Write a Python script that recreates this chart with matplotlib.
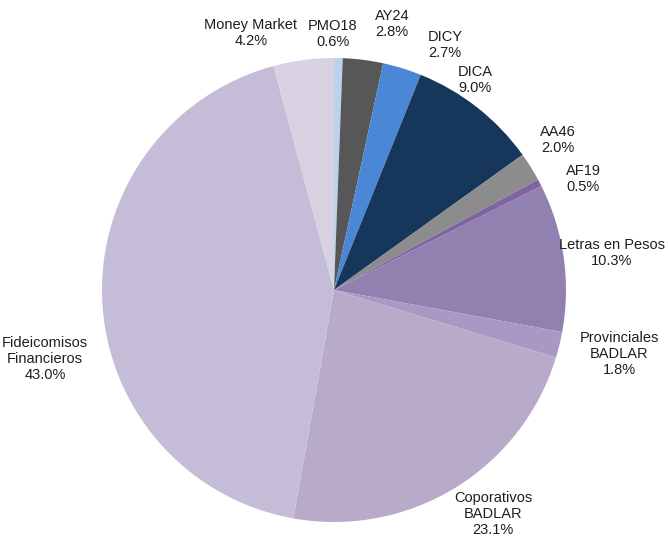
import matplotlib
matplotlib.use('Agg')
import matplotlib.pyplot as plt

# Portfolio composition, clockwise from 12 o'clock
labels = ['PMO18', 'AY24', 'DICY', 'DICA', 'AA46', 'AF19', 'Letras en Pesos',
          'Provinciales\nBADLAR', 'Coporativos\nBADLAR', 'Fideicomisos\nFinancieros',
          'Money Market']
shares = [0.6, 2.8, 2.7, 9.0, 2.0, 0.5, 10.3, 1.8, 23.1, 43.0, 4.2]
colors = ['#bcd2ec', '#575757', '#4a87d6', '#16365c', '#8c8c8c', '#8064a2',
          '#9081b1', '#a898c3', '#b8abca', '#c5bdd7', '#d8d1e2']

W, H = 668, 537
fig = plt.figure(figsize=(W / 100, H / 100), dpi=100)
ax = fig.add_axes([0, 0, 1, 1])

cx, cy, r = 334, H - 290, 232
ax.pie(shares, colors=colors, startangle=90, counterclock=False,
       center=(cx, cy), radius=r, frame=True,
       wedgeprops=dict(linewidth=0))
ax.set_xlim(0, W)
ax.set_ylim(0, H)
ax.set_aspect('equal')
ax.axis('off')

# label anchors (pixel offsets from pie centre, y pointing up)
label_pos = [(-1, 256), (58, 266), (111, 245), (141, 210), (224, 150),
             (249, 111), (278, 37), (285, -64), (159, -224), (-289, -69),
             (-83, 257)]
for lab, val, (dx, dy) in zip(labels, shares, label_pos):
    ax.text(cx + dx, cy + dy, f'{lab}\n{val:.1f}%', ha='center', va='center',
            fontsize=10.5, family='Liberation Sans', color='#1f1f1f',
            linespacing=1.15)

fig.savefig('out.png', dpi=100)
